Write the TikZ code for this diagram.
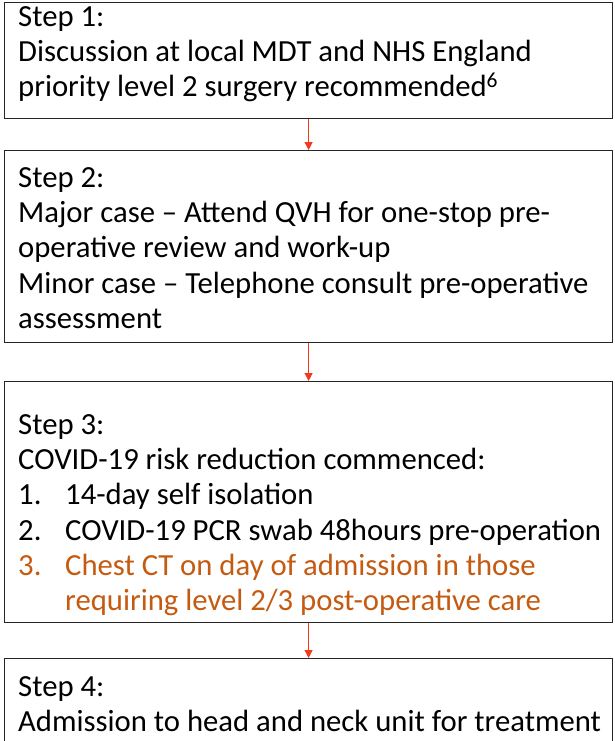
\documentclass[tikz,border=0pt]{standalone}
\usepackage{fontspec}
\setmainfont{Carlito}
\usetikzlibrary{arrows.meta}
\definecolor{arrowred}{HTML}{F23A1D}
\definecolor{ctorange}{HTML}{C55A11}
\tikzset{
  stepbox/.style={draw=black!85, line width=1.2pt, minimum width=608pt, inner sep=0pt, anchor=north west},
  txt/.style={anchor=base west, inner sep=0pt, font=\fontsize{30.7}{35.3}\selectfont},
  flow/.style={draw=arrowred, line width=1.1pt, -{Triangle[length=8pt,width=8pt]}}
}
\begin{document}
\begin{tikzpicture}[x=1pt,y=-1pt]
\useasboundingbox (0,0) rectangle (614,741);
\begin{scope}
\clip (0,0) rectangle (614,741);
% boxes
\node[stepbox, minimum height=116pt] (b1) at (4,2) {};
\node[stepbox, minimum height=192pt] (b2) at (4,150) {};
\node[stepbox, minimum height=241pt] (b3) at (4,381) {};
\node[stepbox, minimum height=120pt] (b4) at (4,658) {};
\end{scope}
% box 1 text
\node[txt] (s1a) at (18,27) {Step 1:};
\node[txt] (s1b) at (18,62) {Discussion at local MDT and NHS England};
\node[txt] (s1c) at (18,97) {priority level 2 surgery recommended\textsuperscript{6}};
% box 2 text
\node[txt] (s2a) at (18,187) {Step 2:};
\node[txt] (s2b) at (18,222) {Major case – Attend QVH for one-stop pre-};
\node[txt] (s2c) at (18,257) {operative review and work-up};
\node[txt] (s2d) at (18,293) {Minor case – Telephone consult pre-operative};
\node[txt] (s2e) at (18,328) {assessment};
% box 3 text
\node[txt] (s3a) at (18,434) {Step 3:};
\node[txt] (s3b) at (18,469) {COVID-19 risk reduction commenced:};
\node[txt] (n1) at (18,504) {1.};
\node[txt] (s3c) at (65,504) {14-day self isolation};
\node[txt] (n2) at (18,540) {2.};
\node[txt] (s3d) at (65,540) {COVID-19 PCR swab 48hours pre-operation};
\node[txt, text=ctorange] (n3) at (18,575) {3.};
\node[txt, text=ctorange] (s3e) at (65,575) {Chest CT on day of admission in those};
\node[txt, text=ctorange] (s3f) at (65,610) {requiring level 2/3 post-operative care};
% box 4 text
\node[txt] (s4a) at (18,696) {Step 4:};
\node[txt] (s4b) at (18,731) {Admission to head and neck unit for treatment};
% arrows
\draw[flow] (b1.south) -- (b2.north);
\draw[flow] (b2.south) -- (b3.north);
\draw[flow] (b3.south) -- (b4.north);
\end{tikzpicture}
\end{document}
